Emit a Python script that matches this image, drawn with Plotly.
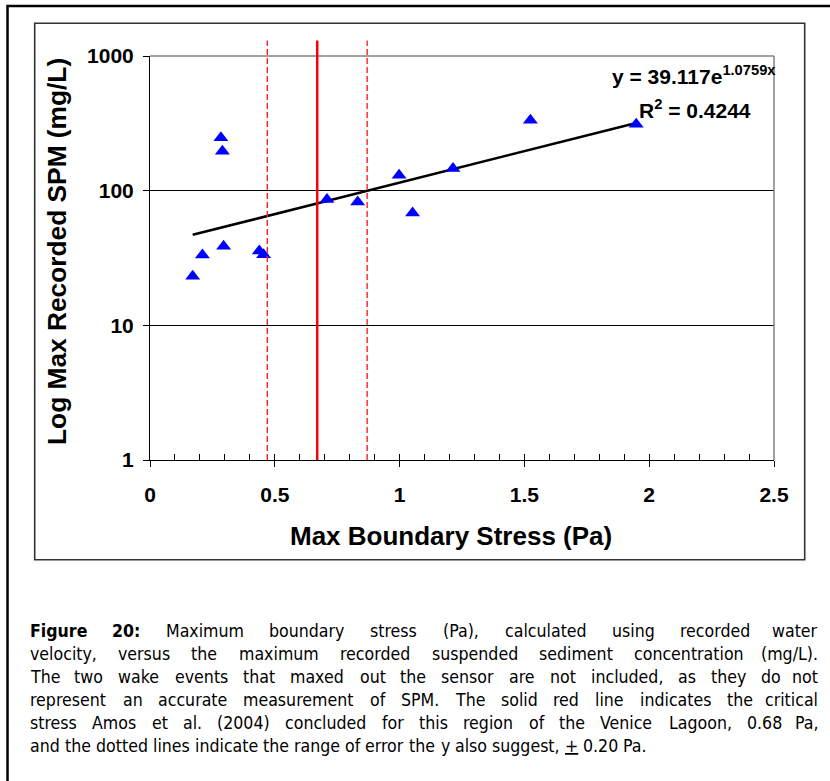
import plotly.graph_objects as go

# Max boundary stress (Pa) vs max recorded SPM (mg/L)
stress_pa = [0.171, 0.210, 0.284, 0.290, 0.295, 0.438, 0.455, 0.709, 0.832,
             0.998, 1.052, 1.214, 1.524, 1.948]
spm_mgl = [23.1, 33.3, 247, 196, 38.7, 35.7, 33.5, 86.1, 82.4,
           130, 68.2, 146, 333, 311]

# exponential fit y = a * exp(b x)
fit_a = 39.117
fit_b = 1.0759
fit_r2 = 0.4244

# critical stress and its error range (Pa)
crit_stress = 0.67
crit_err = 0.20

x_tickvals = [0, 0.5, 1, 1.5, 2, 2.5]
x_ticktext = ["0", "0.5", "1", "1.5", "2", "2.5"]
y_tickvals = [1, 10, 100, 1000]
y_ticktext = ["1", "10", "100", "1000"]

caption_lines = [
    "<b>Figure</b> <b>20:</b> Maximum boundary stress (Pa), calculated using recorded water",
    "velocity, versus the maximum recorded suspended sediment concentration (mg/L).",
    "The two wake events that maxed out the sensor are not included, as they do not",
    "represent an accurate measurement of SPM. The solid red line indicates the critical",
    "stress Amos et al. (2004) concluded for this region of the Venice Lagoon, 0.68 Pa,",
    "and the dotted lines indicate the range of error the y also suggest, <u>+</u> 0.20 Pa.",
]

W, H = 830, 781
L, R, T, B = 150, 56, 56, 321
PW, PH = W - L - R, H - T - B


def px(x):
    return (x - L) / PW


def py(y):
    return (H - B - y) / PH


BOLD = "Liberation Sans, Arial, sans-serif"
NARROW = "DejaVu Sans Condensed, Liberation Sans Narrow, sans-serif"

fig = go.Figure()

x_lo, x_hi = min(stress_pa), max(stress_pa)
E = 2.718281828459045
fig.add_trace(go.Scatter(
    x=[x_lo, x_hi],
    y=[fit_a * E ** (fit_b * x_lo), fit_a * E ** (fit_b * x_hi)],
    mode="lines", line=dict(color="black", width=2.5), hoverinfo="skip"))

fig.add_trace(go.Scatter(
    x=stress_pa, y=spm_mgl, mode="markers",
    marker=dict(symbol="triangle-up", size=13, color="#0000ff", line=dict(width=0))))

# minor tick marks on the x axis (inside)
fig.add_trace(go.Scatter(x=[0], y=[None], xaxis="x2", showlegend=False, hoverinfo="skip"))

tick_font = dict(family=BOLD, size=21, color="black", weight="bold")

fig.update_layout(
    width=W, height=H,
    margin=dict(l=L, r=R, t=T, b=B),
    paper_bgcolor="white", plot_bgcolor="white",
    showlegend=False,
    xaxis=dict(range=[0, 2.5], tickvals=x_tickvals, ticktext=x_ticktext,
               ticks="outside", ticklen=6, tickcolor="black", tickwidth=1,
               showline=True, linecolor="black", linewidth=1,
               showgrid=False, zeroline=False, tickfont=tick_font,
               ticklabelstandoff=10),
    xaxis2=dict(range=[0, 2.5], overlaying="x", anchor="y", side="bottom",
                dtick=0.1, tick0=0, ticks="inside", ticklen=6, tickcolor="black",
                showticklabels=False, showline=False, showgrid=False, zeroline=False),
    yaxis=dict(type="log", range=[0, 3], tickvals=y_tickvals, ticktext=y_ticktext,
               ticks="outside", ticklen=6, tickcolor="black", tickwidth=1,
               showline=True, linecolor="black", linewidth=1,
               showgrid=True, gridcolor="black", gridwidth=1,
               zeroline=False, tickfont=tick_font, ticklabelstandoff=5),
)

shapes = [
    # plot border top/right
    dict(type="line", xref="paper", yref="paper", x0=0, x1=1, y0=1, y1=1,
         line=dict(color="#808080", width=1.5)),
    dict(type="line", xref="paper", yref="paper", x0=1, x1=1, y0=0, y1=1,
         line=dict(color="#808080", width=1.5)),
    # critical stress lines
    dict(type="line", xref="x", yref="paper", x0=crit_stress, x1=crit_stress,
         y0=0, y1=py(40.5), line=dict(color="#ff0000", width=2.5)),
    dict(type="line", xref="x", yref="paper", x0=crit_stress - crit_err, x1=crit_stress - crit_err,
         y0=0, y1=py(40.5), line=dict(color="#ff2020", width=1.4, dash="6px,3px")),
    dict(type="line", xref="x", yref="paper", x0=crit_stress + crit_err, x1=crit_stress + crit_err,
         y0=0, y1=py(40.5), line=dict(color="#ff2020", width=1.4, dash="6px,3px")),
    # chart frame
    dict(type="rect", xref="paper", yref="paper", x0=px(34.7), x1=px(804.7),
         y0=py(559.7), y1=py(23.3), line=dict(color="#333333", width=1.6)),
    # page frame
    dict(type="rect", xref="paper", yref="paper", x0=px(7.5), x1=px(845),
         y0=py(800), y1=py(6), line=dict(color="black", width=2.5)),
]
fig.update_layout(shapes=shapes)

ann = [
    dict(text="<b>y = %.3fe<sup>%.4fx</sup></b>" % (fit_a, fit_b),
         x=px(610), y=py(75), xanchor="left", yanchor="middle",
         font=dict(family=BOLD, size=21, color="black")),
    dict(text="<b>R<sup>2</sup> = %.4f</b>" % fit_r2,
         x=px(637), y=py(109), xanchor="left", yanchor="middle",
         font=dict(family=BOLD, size=21, color="black")),
    dict(text="<b>Log Max Recorded SPM (mg/L)</b>", textangle=-90,
         x=px(57), y=py(252), xanchor="center", yanchor="middle",
         font=dict(family=BOLD, size=26.3, color="black")),
    dict(text="<b>Max Boundary Stress (Pa)</b>",
         x=px(451), y=py(536), xanchor="center", yanchor="middle",
         font=dict(family=BOLD, size=26, color="black")),
]

# caption, justified word by word (DejaVu Sans advance widths, 2048 units/em,
# condensed face is 90 % as wide)
REG = {" ": 651, "(": 799, ")": 799, "+": 1716, ",": 651, "-": 739, ".": 651, "/": 690,
       ":": 690, "A": 1401, "B": 1405, "C": 1430, "D": 1577, "E": 1294, "F": 1178,
       "G": 1587, "H": 1540, "I": 604, "L": 1141, "M": 1767, "N": 1532, "O": 1612,
       "P": 1235, "R": 1423, "S": 1300, "T": 1251, "V": 1401, "W": 2025,
       "a": 1255, "b": 1300, "c": 1126, "d": 1300, "e": 1260, "f": 721, "g": 1300,
       "h": 1298, "i": 569, "j": 569, "k": 1186, "l": 569, "m": 1995, "n": 1298,
       "o": 1253, "p": 1300, "q": 1300, "r": 842, "s": 1067, "t": 803, "u": 1298,
       "v": 1212, "w": 1675, "x": 1212, "y": 1212, "z": 1075}
BLD = {"F": 1290, "i": 702, "g": 1466, "u": 1458, "r": 1010, "e": 1389, ":": 819}
CAP_SIZE = 17.6
COND_K = 0.9


def word_width(word):
    bold = word.startswith("<b>")
    plain = word.replace("<b>", "").replace("</b>", "").replace("<u>", "").replace("</u>", "")
    tot = 0
    for ch in plain:
        if ch.isdigit():
            tot += 1425 if bold else 1303
        elif bold:
            tot += BLD.get(ch, REG.get(ch, 1300))
        else:
            tot += REG.get(ch, 1300)
    return tot / 2048 * CAP_SIZE * COND_K


cap_left, cap_right = 28, 820
cap_y0, cap_dy = 631, 23
for i, line in enumerate(caption_lines):
    yy = py(cap_y0 + i * cap_dy)
    words = line.split(" ")
    widths = [word_width(w) for w in words]
    last = i == len(caption_lines) - 1
    if last:
        gap = REG[" "] / 2048 * CAP_SIZE * COND_K
    else:
        gap = (cap_right - cap_left - sum(widths)) / (len(words) - 1)
    xcur = cap_left
    for j, w in enumerate(words):
        if not last and j == len(words) - 1:
            ann.append(dict(text=w, x=px(cap_right), y=yy, xanchor="right", yanchor="middle",
                            font=dict(family=NARROW, size=CAP_SIZE, color="black")))
        else:
            ann.append(dict(text=w, x=px(xcur), y=yy, xanchor="left", yanchor="middle",
                            font=dict(family=NARROW, size=CAP_SIZE, color="black")))
        xcur += widths[j] + gap

for a in ann:
    a.update(xref="paper", yref="paper", showarrow=False)
fig.update_layout(annotations=ann)

fig.write_html("out.html")
